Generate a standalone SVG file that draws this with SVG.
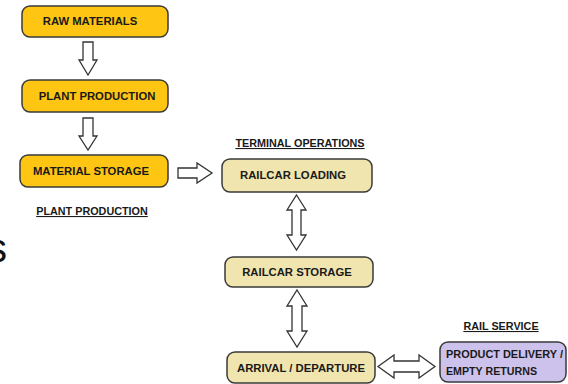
<svg xmlns="http://www.w3.org/2000/svg" width="568" height="384" viewBox="0 0 568 384">
<style>
.gold{fill:#FFC513;stroke:#3a3a3a;stroke-width:1.5}
.tan{fill:#F0E5AE;stroke:#3a3a3a;stroke-width:1.5}
.purp{fill:#CDC2EC;stroke:#3a3a3a;stroke-width:1.5}
.t{font-family:"Liberation Sans",Arial,sans-serif;font-weight:bold;font-size:11.3px;fill:#1a1a1a;text-anchor:middle}
.h{font-family:"Liberation Sans",Arial,sans-serif;font-weight:bold;font-size:10.8px;fill:#1a1a1a;text-anchor:middle;text-decoration:underline}
.arr{fill:#fff;stroke:#333;stroke-width:1.3;stroke-linejoin:miter}
</style>
<rect width="568" height="384" fill="#fff"/>
<text x="-13" y="262" font-family="Liberation Sans,Arial,sans-serif" font-size="40" fill="#111">s</text>

<g id="raw-materials">
<rect class="gold" x="22" y="6" width="146" height="31" rx="8"/>
<text class="t" x="90" y="25">RAW MATERIALS</text>
</g>
<g id="plant-production">
<rect class="gold" x="22" y="80" width="146" height="32" rx="8"/>
<text class="t" x="97" y="100">PLANT PRODUCTION</text>
</g>
<g id="material-storage">
<rect class="gold" x="20" y="155" width="148" height="32" rx="8"/>
<text class="t" x="91" y="175">MATERIAL STORAGE</text>
</g>
<g id="label-plant">
<text class="h" x="92" y="215">PLANT PRODUCTION</text>
</g>
<g id="label-terminal">
<text class="h" x="300" y="147">TERMINAL OPERATIONS</text>
</g>
<g id="railcar-loading">
<rect class="tan" x="222" y="159" width="150" height="33" rx="8"/>
<text class="t" x="293" y="179">RAILCAR LOADING</text>
</g>
<g id="railcar-storage">
<rect class="tan" x="225" y="257" width="148" height="30" rx="8"/>
<text class="t" x="297" y="276">RAILCAR STORAGE</text>
</g>
<g id="arrival-departure">
<rect class="tan" x="227" y="352" width="148" height="31" rx="8"/>
<text class="t" x="301" y="372">ARRIVAL / DEPARTURE</text>
</g>
<g id="label-rail">
<text class="h" x="501" y="330">RAIL SERVICE</text>
</g>
<g id="product-delivery">
<rect class="purp" x="440" y="342" width="126" height="40" rx="8"/>
<text class="t" x="504.5" y="358" textLength="117" lengthAdjust="spacingAndGlyphs">PRODUCT DELIVERY /</text>
<text class="t" x="491.5" y="375" textLength="91" lengthAdjust="spacingAndGlyphs">EMPTY RETURNS</text>
</g>

<g id="connectors">
<path class="arr" d="M83,42 H93 V60 H97 L88,75 L79,60 H83 Z"/>
<path class="arr" d="M83,118 H93 V136 H97 L88,150 L79,136 H83 Z"/>
<path class="arr" d="M178,168 H197 V163 L212,173 L197,183 V178 H178 Z"/>
<path class="arr" d="M296.5,195 L306,210 H301 V235 H306 L296.5,250 L287,235 H292 V210 H287 Z"/>
<path class="arr" d="M297,290 L307,306 H302 V331 H307 L297,347 L287,331 H292 V306 H287 Z"/>
<path class="arr" d="M378,366.5 L394,355 V361 H419 V355 L435,366.5 L419,378 V372 H394 V378 Z"/>
</g>
</svg>
